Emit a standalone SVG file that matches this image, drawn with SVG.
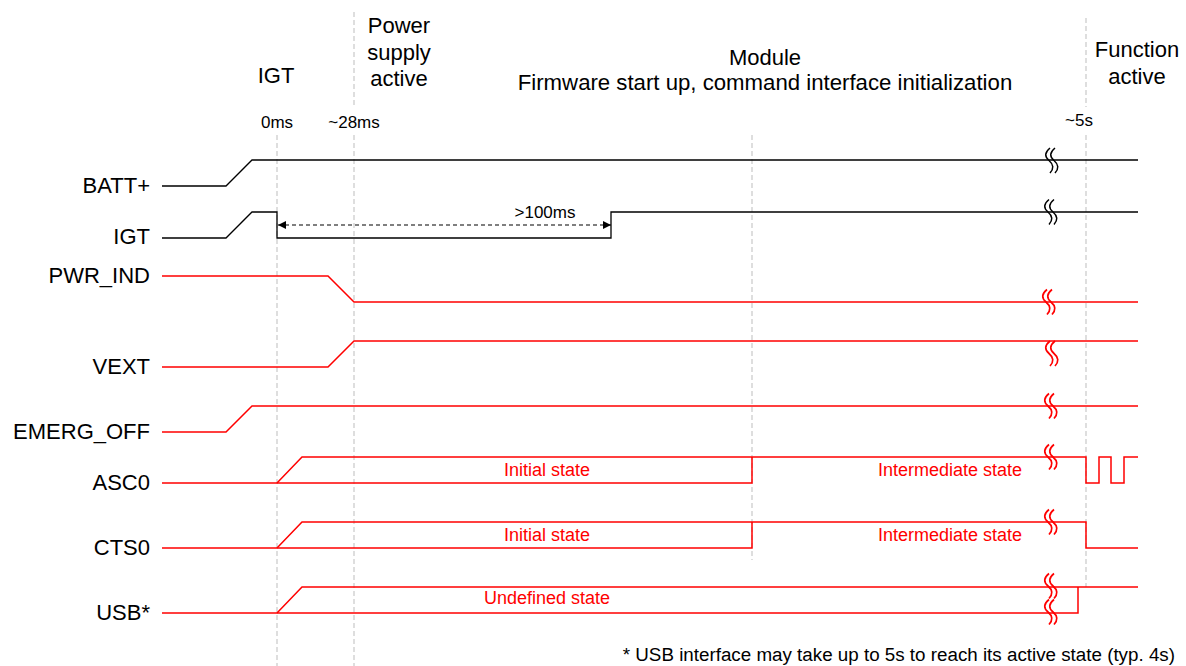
<svg xmlns="http://www.w3.org/2000/svg" width="1186" height="666" viewBox="0 0 1186 666">
<style>
  text { font-family: "Liberation Sans", Arial, sans-serif; fill: #000; }
  .hdr { font-size: 22px; text-anchor: middle; }
  .lbl { font-size: 22px; text-anchor: end; }
  .tm { font-size: 17px; text-anchor: middle; }
  .st { font-size: 18px; fill: #ff0000; text-anchor: middle; }
  .note { font-size: 18.8px; text-anchor: end; }
  .grid { stroke: #bdbdbd; stroke-width: 1; stroke-dasharray: 5 3; fill: none; }
  .blk { stroke: #000; stroke-width: 1.3; fill: none; }
  .red { stroke: #ff0000; stroke-width: 1.5; fill: none; }
  .brkb { stroke: #000; stroke-width: 1.5; fill: none; }
  .brkr { stroke: #ff0000; stroke-width: 1.7; fill: none; }
  .dim { stroke: #000; stroke-width: 1.2; stroke-dasharray: 4 3; fill: none; }
</style>
<defs>
  <path id="brk" d="M1,-12.5 Q-7,-6 0,0 T1,12.5 M6,-12.5 Q-2,-6 5,0 T6,12.5"/>
  <marker id="ah" viewBox="0 0 10 10" refX="10" refY="5" markerWidth="8" markerHeight="8" markerUnits="userSpaceOnUse" orient="auto-start-reverse">
    <path d="M0,0 L10,5 L0,10 Z" fill="#000"/>
  </marker>
</defs>
<rect width="1186" height="666" fill="#fff"/>

<g id="grid">
  <line class="grid" x1="277" y1="135" x2="277" y2="666"/>
  <line class="grid" x1="354" y1="12" x2="354" y2="107"/>
  <line class="grid" x1="354" y1="135" x2="354" y2="666"/>
  <line class="grid" x1="752" y1="135" x2="752" y2="560"/>
  <line class="grid" x1="1086" y1="18" x2="1086" y2="107"/>
  <line class="grid" x1="1086" y1="135" x2="1086" y2="587"/>
</g>

<g id="headers">
  <text class="hdr" x="276" y="83">IGT</text>
  <text class="hdr" x="399" y="33">Power</text>
  <text class="hdr" x="399" y="60">supply</text>
  <text class="hdr" x="399" y="86">active</text>
  <text class="hdr" x="765" y="65">Module</text>
  <text class="hdr" x="765" y="90" style="font-size:22.2px">Firmware start up, command interface initialization</text>
  <text class="hdr" x="1137" y="57">Function</text>
  <text class="hdr" x="1137" y="84">active</text>
  <text class="tm" x="277" y="128">0ms</text>
  <text class="tm" x="354" y="128">~28ms</text>
  <text class="tm" x="1079" y="126">~5s</text>
</g>

<g id="labels">
  <text class="lbl" x="150" y="193">BATT+</text>
  <text class="lbl" x="150" y="244">IGT</text>
  <text class="lbl" x="150" y="283">PWR_IND</text>
  <text class="lbl" x="150" y="374">VEXT</text>
  <text class="lbl" x="150" y="439">EMERG_OFF</text>
  <text class="lbl" x="150" y="490">ASC0</text>
  <text class="lbl" x="150" y="555">CTS0</text>
  <text class="lbl" x="150" y="620">USB*</text>
</g>

<g id="connectors">
  <g id="sig-batt">
    <polyline class="blk" points="162,186 226,186 252,160 1138,160"/>
    <use href="#brk" class="brkb" transform="translate(1049,160.5)"/>
  </g>
  <g id="sig-igt">
    <polyline class="blk" points="162,238 226,238 252,212 277,212 277,238 611,238 611,212 1138,212"/>
    <use href="#brk" class="brkb" transform="translate(1048,212)"/>
    <line class="dim" x1="278" y1="225" x2="611" y2="225" marker-start="url(#ah)" marker-end="url(#ah)"/>
    <text class="tm" x="545" y="218">&gt;100ms</text>
  </g>
  <g id="sig-pwrind">
    <polyline class="red" points="162,276 328,276 354,302 1138,302"/>
    <use href="#brk" class="brkr" transform="translate(1046,302)"/>
  </g>
  <g id="sig-vext">
    <polyline class="red" points="162,367 328,367 354,341 1138,341"/>
    <use href="#brk" class="brkr" transform="translate(1049,353.5)"/>
  </g>
  <g id="sig-emerg">
    <polyline class="red" points="162,432 226,432 252,406 1138,406"/>
    <use href="#brk" class="brkr" transform="translate(1048,406)"/>
  </g>
  <g id="sig-asc0">
    <polyline class="red" points="162,483 752,483 752,457"/>
    <polyline class="red" points="277,483 302,457 1086,457 1086,483 1099,483 1099,457 1111,457 1111,483 1124,483 1124,457 1138,457"/>
    <use href="#brk" class="brkr" transform="translate(1048,457)"/>
    <text class="st" x="547" y="476">Initial state</text>
    <text class="st" x="950" y="476">Intermediate state</text>
  </g>
  <g id="sig-cts0">
    <polyline class="red" points="162,548 752,548 752,522"/>
    <polyline class="red" points="277,548 302,522 1086,522 1086,548 1138,548"/>
    <use href="#brk" class="brkr" transform="translate(1048,522)"/>
    <text class="st" x="547" y="541">Initial state</text>
    <text class="st" x="950" y="541">Intermediate state</text>
  </g>
  <g id="sig-usb">
    <polyline class="red" points="162,613 1078,613 1078,587"/>
    <polyline class="red" points="277,613 302,587 1138,587"/>
    <use href="#brk" class="brkr" transform="translate(1048,586)"/>
    <use href="#brk" class="brkr" transform="translate(1048,612)"/>
    <text class="st" x="547" y="604">Undefined state</text>
  </g>
</g>

<text class="note" x="1175" y="661">* USB interface may take up to 5s to reach its active state (typ. 4s)</text>
</svg>
